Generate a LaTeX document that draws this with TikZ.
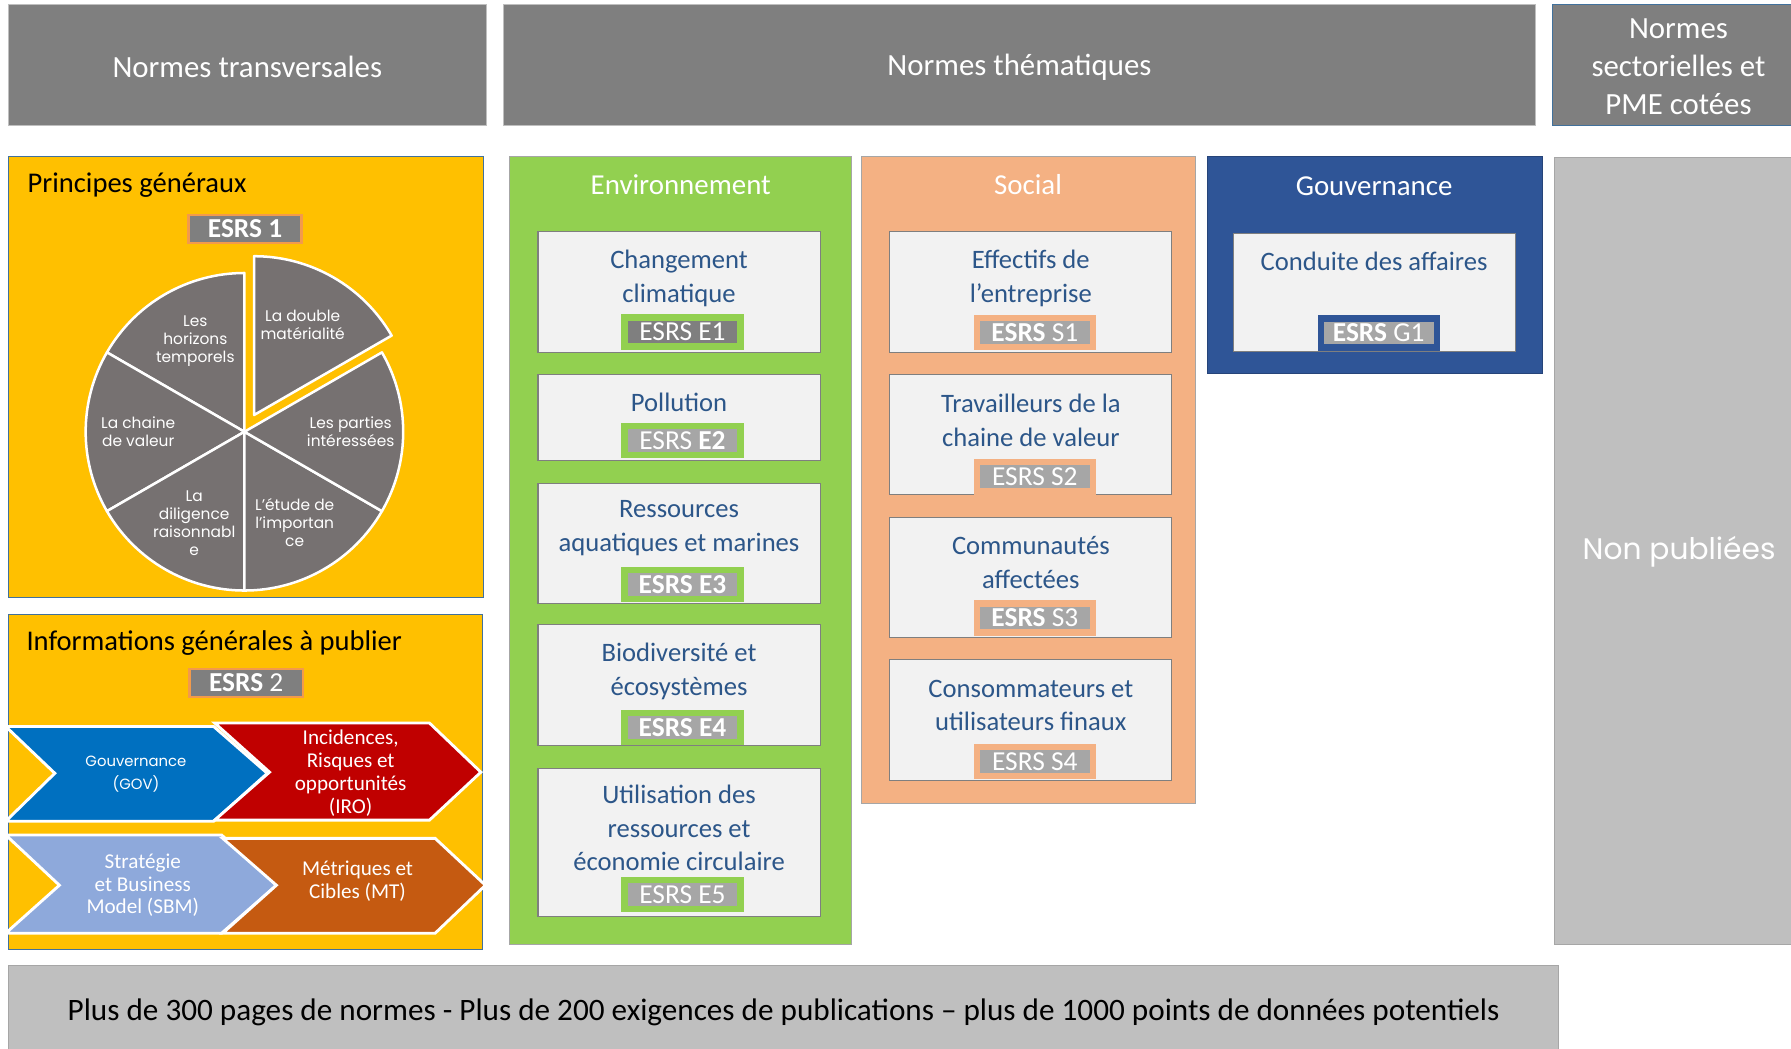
\documentclass[tikz,border=0pt]{standalone}
\usepackage{fontspec}
\setmainfont{Carlito}
\newfontfamily\geo{Poppins}
\definecolor{hdr}{HTML}{7F7F7F}
\definecolor{yel}{HTML}{FFC000}
\definecolor{grn}{HTML}{92D050}
\definecolor{soc}{HTML}{F4B183}
\definecolor{gov}{HTML}{2F5597}
\definecolor{wbox}{HTML}{F2F2F2}
\definecolor{lgray}{HTML}{BFBFBF}
\definecolor{pie}{HTML}{767171}
\definecolor{dlab}{HTML}{7F7F7F}
\definecolor{llab}{HTML}{A6A6A6}
\definecolor{txtblue}{RGB}{44,86,137}
\definecolor{orng}{HTML}{F39A4B}
\definecolor{cgov}{HTML}{0070C0}
\definecolor{ciro}{HTML}{C00000}
\definecolor{csbm}{HTML}{8EA9DB}
\definecolor{cmt}{HTML}{C55A11}
\definecolor{bord}{HTML}{41719C}
\begin{document}
\begin{tikzpicture}[x=1pt,y=-1pt,
  bx/.style={anchor=north west, inner sep=0pt, outer sep=0pt, line width=0.8pt},
  hdrbox/.style={bx, fill=hdr, draw=lgray},
  hdrtxt/.style={text=white, align=center, inner sep=0pt, font=\fontsize{27}{33.5}\selectfont},
  wb/.style={bx, fill=wbox, draw=hdr, line width=0.9pt},
  wtxt/.style={text=txtblue, align=center, font=\fontsize{23.3}{29.5}\selectfont, inner sep=0pt},
  cat/.style={text=white, font=\fontsize{25.3}{30}\selectfont, inner sep=0pt},
  ttl/.style={text=black, anchor=west, font=\fontsize{25}{30}\selectfont, inner sep=0pt},
  pietxt/.style={text=white, align=center, font=\geo\fontsize{13.5}{15.7}\selectfont, inner sep=0pt},
  arrtxt/.style={text=white, align=center, font=\fontsize{18.5}{20}\selectfont, inner sep=0pt},
  lab/.style 2 args={draw=#1, fill=#2, line width=5.5pt, minimum width=101.5pt, minimum height=25.5pt, inner sep=0pt, text=white, font=\fontsize{24}{24}\selectfont, text height=15.5pt, text depth=0pt},
  labo/.style={draw=orng, fill=dlab, line width=2pt, minimum width=99pt, minimum height=25pt, inner sep=0pt, text=white, font=\fontsize{24}{24}\selectfont, text height=15.5pt, text depth=0pt},
  slice/.style={fill=pie, draw=white, line width=2.2pt, line join=round},
  chev/.style={draw=white, line width=2.5pt, line join=miter}]
\useasboundingbox (0,0) rectangle (1568,918);
\clip (0,0) rectangle (1568,918);
\fill[white] (0,0) rectangle (1568,918);

% headers
\node[hdrbox, minimum width=419pt, minimum height=106pt] (h1) at (7,4) {};
\node[hdrbox, minimum width=903pt, minimum height=106pt] (h2) at (441,4) {};
\node[hdrbox, draw=bord, minimum width=221pt, minimum height=106pt] (h3) at (1359,4) {};
\node[hdrtxt] (h1t) at (216.5,59) {Normes transversales};
\node[hdrtxt] (h2t) at (892.5,59) {Normes thématiques};
\node[hdrtxt] (h3t) at (1469.5,58.5) {Normes\\sectorielles et\\PME cotées};

% big boxes
\node[bx, fill=yel, draw=bord, minimum width=416pt, minimum height=386pt] (pg) at (7,137) {};
\node[bx, fill=yel, draw=bord, minimum width=415pt, minimum height=293pt] (ig) at (7,538) {};
\node[bx, fill=grn, draw=llab, minimum width=299pt, minimum height=690pt] (env) at (446,137) {};
\node[bx, fill=soc, draw=llab, minimum width=293pt, minimum height=566pt] (soc) at (754,137) {};
\node[bx, fill=gov, draw=gov!80!black, minimum width=293pt, minimum height=190pt] (gouv) at (1057,137) {};
\node[bx, fill=lgray, draw=llab, minimum width=215pt, minimum height=689pt] (np) at (1361,138) {};
\node[bx, fill=lgray, draw=llab, minimum width=1357pt, minimum height=80pt] (bot) at (7,845) {};

% titles
\node[ttl] (pgt) at (24,162) {Principes généraux};
\node[ttl] (igt) at (23,563) {Informations générales à publier};
\node[cat] (envt) at (596,162) {Environnement};
\node[cat] (soct) at (900,162) {Social};
\node[cat] (gouvt) at (1203,163) {Gouvernance};
\node[text=white, inner sep=0pt, font=\geo\fontsize{26}{30}\selectfont] (npt) at (1470,483) {Non publiées};
\node[text=black, inner sep=0pt, font=\fontsize{27.3}{32}\selectfont] (bott) at (686,886) {Plus de 300 pages de normes - Plus de 200 exigences de publications – plus de 1000 points de données potentiels};

% ESRS 1 / 2 labels
\node[labo] (esrs1) at (214.5,200.5) {\textbf{ESRS 1}};
\node[labo] (esrs2) at (215.5,598) {\textbf{ESRS} 2};

% pie
\begin{scope}[shift={(214,378)}, y=1pt]
  \filldraw[slice] (8.5,14.7) -- ++(30:139) arc[start angle=30, end angle=90, radius=139] -- cycle;
  \foreach \a in {90,150,210,270,330}
    \filldraw[slice] (0,0) -- (\a:139) arc[start angle=\a, end angle=\a+60, radius=139] -- cycle;
\end{scope}
\node[pietxt] (p1) at (265,284.5) {La double\\matérialité};
\node[pietxt] (p2) at (171,298.5) {Les\\horizons\\temporels};
\node[pietxt] (p3) at (121,378) {La chaine\\de valeur};
\node[pietxt] (p4) at (307,378) {Les parties\\intéressées};
\node[pietxt] (p5) at (170,458) {La\\diligence\\raisonnabl\\e};
\node[pietxt] (p6) at (258,457.5) {L’étude de\\l’importan\\ce};

% chevrons
\filldraw[chev, fill=cgov] (5,636) -- (187,636) -- (234,677) -- (187,719) -- (5,719) -- (48,677) -- cycle;
\filldraw[chev, fill=ciro] (188,633) -- (376,633) -- (421,676) -- (376,718) -- (188,718) -- (236,676) -- cycle;
\filldraw[chev, fill=csbm] (5,731) -- (194,731) -- (242,775) -- (194,817) -- (5,817) -- (52,775) -- cycle;
\filldraw[chev, fill=cmt] (195,734) -- (381,734) -- (425,775) -- (381,817) -- (195,817) -- (242,775) -- cycle;
\node[arrtxt, font=\geo\fontsize{13}{20}\selectfont] (gov) at (119,677.5) {Gouvernance\\(GOV)};
\node[arrtxt] (iro) at (307,677) {Incidences,\\Risques et\\opportunités\\(IRO)};
\node[arrtxt] (sbm) at (125,775) {Stratégie\\et Business\\Model (SBM)};
\node[arrtxt] (mt) at (313,771.5) {Métriques et\\Cibles (MT)};

% environment boxes
\node[wb, minimum width=247pt, minimum height=106pt] (chg) at (471,203) {};
\node[wb, minimum width=247pt, minimum height=75pt] (pol) at (471,328) {};
\node[wb, minimum width=247pt, minimum height=105pt] (res) at (471,423) {};
\node[wb, minimum width=247pt, minimum height=106pt] (bio) at (471,547) {};
\node[wb, minimum width=247pt, minimum height=129pt] (uti) at (471,673) {};
\node[wtxt] (chgt) at (594.5,244) {Changement\\climatique};
\node[wtxt] (polt) at (594.5,352) {Pollution};
\node[wtxt] (rest) at (594.5,462.5) {Ressources\\aquatiques et marines};
\node[wtxt] (biot) at (594.5,587.5) {Biodiversité et\\écosystèmes};
\node[wtxt] (utit) at (594.5,725) {Utilisation des\\ressources et\\économie circulaire};
\node[lab={grn}{dlab}] (e1) at (597.5,290.7) {ESRS E1};
\node[lab={grn}{llab}] (e2) at (597.5,385.5) {ESRS \textbf{E2}};
\node[lab={grn}{llab}] (e3) at (597.5,511.7) {\textbf{ESRS E3}};
\node[lab={grn}{llab}] (e4) at (597.5,637) {\textbf{ESRS E4}};
\node[lab={grn}{llab}] (e5) at (597.5,783.3) {ESRS E5};

% social boxes
\node[wb, minimum width=247pt, minimum height=106pt] (eff) at (779,203) {};
\node[wb, minimum width=247pt, minimum height=105pt] (tra) at (779,328) {};
\node[wb, minimum width=247pt, minimum height=105pt] (com) at (779,453) {};
\node[wb, minimum width=247pt, minimum height=106pt] (con) at (779,577) {};
\node[wtxt] (efft) at (902.5,244) {Effectifs de\\l’entreprise};
\node[wtxt] (trat) at (902.5,368) {Travailleurs de la\\chaine de valeur};
\node[wtxt] (comt) at (902.5,492.5) {Communautés\\affectées};
\node[wtxt] (cont) at (902.5,617.5) {Consommateurs et\\utilisateurs finaux};
\node[lab={soc}{llab}] (s1) at (906,291) {\textbf{ESRS} S1};
\node[lab={soc}{llab}] (s2) at (906,417.5) {ESRS S2};
\node[lab={soc}{llab}] (s3) at (906,541) {\textbf{ESRS} S3};
\node[lab={soc}{llab}] (s4) at (906,666.5) {ESRS S4};

% gouvernance box
\node[wb, minimum width=247pt, minimum height=104pt] (cda) at (1080,204) {};
\node[wtxt] (cdat) at (1203,229) {Conduite des affaires};
\node[lab={gov}{llab}] (g1) at (1207,291.5) {\textbf{ESRS} G1};
\end{tikzpicture}
\end{document}
